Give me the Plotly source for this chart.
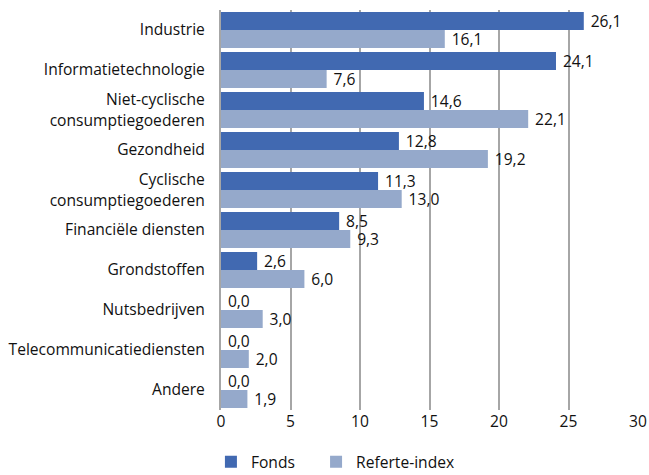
import plotly.graph_objects as go

sectors = [
    "Industrie",
    "Informatietechnologie",
    "Niet-cyclische<br>consumptiegoederen",
    "Gezondheid",
    "Cyclische<br>consumptiegoederen",
    "Financiële diensten",
    "Grondstoffen",
    "Nutsbedrijven",
    "Telecommunicatiediensten",
    "Andere",
]
fonds = [26.1, 24.1, 14.6, 12.8, 11.3, 8.5, 2.6, 0.0, 0.0, 0.0]
referte = [16.1, 7.6, 22.1, 19.2, 13.0, 9.3, 6.0, 3.0, 2.0, 1.9]
x_ticks = [0, 5, 10, 15, 20, 25, 30]

FONT = "Open Sans"
SIZE = 15.6
INK = "#111111"


def fmt(v):
    # small lead-in gap between bar end and its value label
    return "\u2005" + f"{v:.1f}".replace(".", ",")


fig = go.Figure()
fig.add_trace(go.Bar(
    name="Fonds", y=sectors, x=fonds, orientation="h",
    marker=dict(color="#4169b1", line=dict(width=0)),
    text=[fmt(v) for v in fonds], textposition="outside",
    constraintext="none",
    textfont=dict(size=SIZE, color=INK, family=FONT),
    cliponaxis=False, legend="legend",
))
fig.add_trace(go.Bar(
    name="Referte-index", y=sectors, x=referte, orientation="h",
    marker=dict(color="#95a9cb", line=dict(width=0)),
    text=[fmt(v) for v in referte], textposition="outside",
    constraintext="none",
    textfont=dict(size=SIZE, color=INK, family=FONT),
    cliponaxis=False, legend="legend2",
))

legend_common = dict(
    orientation="h", xanchor="left",
    yref="container", y=0.027, yanchor="middle",
    font=dict(size=SIZE, family=FONT), itemwidth=30,
)

fig.update_layout(
    width=649, height=475,
    margin=dict(l=221, r=11, t=10, b=65, autoexpand=False),
    paper_bgcolor="white", plot_bgcolor="white",
    barmode="group", bargap=0.1, bargroupgap=0,
    font=dict(family=FONT, size=SIZE, color=INK),
    separators=",.",
    showlegend=True,
    legend=dict(xref="container", x=0.325, **legend_common),
    legend2=dict(xref="container", x=0.487, **legend_common),
)
fig.update_xaxes(
    range=[0, 30], tickvals=x_ticks, ticktext=[str(t) for t in x_ticks],
    showgrid=True, gridcolor="#a6a6a6", gridwidth=1.5,
    zeroline=False, showline=False, ticks="", ticklen=0,
    tickfont=dict(size=SIZE, family=FONT),
)
fig.update_yaxes(
    autorange="reversed", showline=True, linecolor="#a6a6a6", linewidth=2,
    ticks="", ticklabelstandoff=11, showgrid=False,
    tickfont=dict(size=SIZE, family=FONT),
)

fig.write_html("out.html")
